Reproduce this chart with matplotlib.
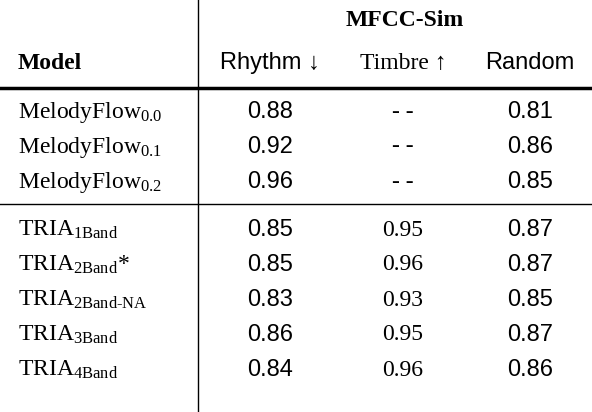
import matplotlib
matplotlib.use("Agg")
import matplotlib.pyplot as plt

plt.rcParams["font.family"] = ["Liberation Serif", "DejaVu Serif"]
plt.rcParams["mathtext.fontset"] = "custom"
plt.rcParams["mathtext.rm"] = "Liberation Serif"
plt.rcParams["mathtext.it"] = "Liberation Serif:italic"

models = [r"MelodyFlow$_{0.0}$", r"MelodyFlow$_{0.1}$", r"MelodyFlow$_{0.2}$",
          r"TRIA$_{\mathrm{1Band}}$", r"TRIA$_{\mathrm{2Band}}$*", r"TRIA$_{\mathrm{2Band\text{-}NA}}$",
          r"TRIA$_{\mathrm{3Band}}$", r"TRIA$_{\mathrm{4Band}}$"]
rhythm = ["0.88", "0.92", "0.96", "0.85", "0.85", "0.83", "0.86", "0.84"]
timbre = ["- -", "- -", "- -", "0.95", "0.96", "0.93", "0.95", "0.96"]
random_ = ["0.81", "0.86", "0.85", "0.87", "0.87", "0.85", "0.87", "0.86"]
columns = ["Rhythm \u2193", "Timbre \u2191", "Random"]
# the reference mixes sans (Rhythm, Random) and serif (Timbre) columns
col_family = ["Liberation Sans", "Liberation Serif", "Liberation Sans"]

row_y = [112, 147, 182, 230, 265, 300, 335, 370]
col_x = [270, 403, 530]

fig = plt.figure(figsize=(5.92, 4.12), dpi=100)
ax = fig.add_axes([0, 0, 1, 1])
ax.set_xlim(0, 592)
ax.set_ylim(412, 0)
ax.axis("off")

fs = 17
ax.text(405, 20, "MFCC-Sim", ha="center", va="center", fontsize=fs, fontweight="bold")
ax.text(18, 63, "Model", ha="left", va="center", fontsize=fs, fontweight="bold")
for x, c, fam in zip(col_x, columns, col_family):
    ax.text(x, 63, c, ha="center", va="center", fontsize=fs, family=[fam, "DejaVu Sans"])

for i, y in enumerate(row_y):
    ax.text(18, y, models[i], ha="left", va="center", fontsize=fs)
    for x, v, fam in zip(col_x, [rhythm[i], timbre[i], random_[i]], col_family):
        ax.text(x, y, v, ha="center", va="center", fontsize=fs, family=fam)

ax.plot([0, 592], [88, 88], color="black", lw=2.5)
ax.plot([0, 592], [204, 204], color="black", lw=1)
ax.plot([198, 198], [0, 412], color="black", lw=1)

fig.savefig("out.png", dpi=100)
